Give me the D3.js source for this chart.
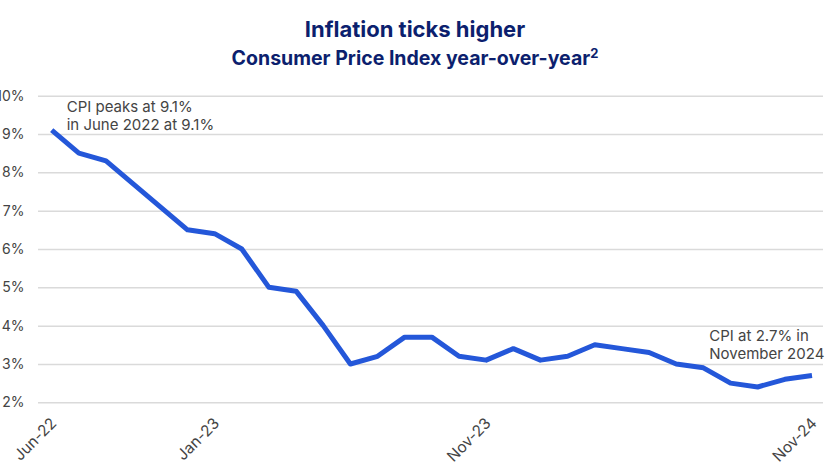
<!DOCTYPE html>
<html>
<head>
<meta charset="utf-8">
<script src="https://cdn.jsdelivr.net/npm/d3@7"></script>
<style>
  html, body { margin: 0; padding: 0; background: #fff; }
  svg { display: block; }
  text { font-family: Inter, "Noto Sans", sans-serif; }
</style>
</head>
<body>
<div id="chart"></div>
<script>
// Data
const months = ["Jun-22","Jul-22","Aug-22","Oct-22","Nov-22","Dec-22","Jan-23","Feb-23","Mar-23","Apr-23","May-23","Jun-23","Jul-23","Aug-23","Sep-23","Oct-23","Nov-23","Dec-23","Jan-24","Feb-24","Mar-24","Apr-24","May-24","Jun-24","Jul-24","Aug-24","Sep-24","Oct-24","Nov-24"];
const cpi = [9.1, 8.5, 8.3, 7.7, 7.1, 6.5, 6.4, 6.0, 5.0, 4.9, 4.0, 3.0, 3.2, 3.7, 3.7, 3.2, 3.1, 3.4, 3.1, 3.2, 3.5, 3.4, 3.3, 3.0, 2.9, 2.5, 2.4, 2.6, 2.7];
const xTickLabels = ["Jun-22","Jan-23","Nov-23","Nov-24"];
const yTicks = [2, 3, 4, 5, 6, 7, 8, 9, 10];
const titleText = "Inflation ticks higher";
const subtitleText = "Consumer Price Index year-over-year";
const annotations = [
  { idx: 0, lines: ["CPI peaks at 9.1%", "in June 2022 at 9.1%"] },
  { idx: 28, lines: ["CPI at 2.7% in", "November 2024"] }
];

const W = 840, H = 472;
const navy = "#0c1f6e";
const lineColor = "#2457d9";
const textGrey = "#444";
const gridColor = "#dadada";

const svg = d3.select("#chart").append("svg").attr("width", W).attr("height", H);

const x = d3.scalePoint().domain(months).range([51.7, 812]);
const y = d3.scaleLinear().domain([2, 10]).range([402.3, 95.7]);

// Titles
svg.append("text").attr("x", 415).attr("y", 37.3).attr("text-anchor", "middle")
  .attr("fill", navy).attr("font-size", 22).attr("font-weight", 700).text(titleText);
const sub = svg.append("text").attr("x", 415).attr("y", 65).attr("text-anchor", "middle")
  .attr("fill", navy).attr("font-size", 19.5).attr("font-weight", 700);
sub.append("tspan").text(subtitleText);
sub.append("tspan").attr("font-size", 13).attr("dy", -7).text("2");

// Gridlines + y labels
const yAxis = d3.axisLeft(y).tickValues(yTicks).tickFormat(d => d + "%").tickSize(-(823 - 38)).tickPadding(13.5);
const gy = svg.append("g").attr("transform", "translate(38,0)").call(yAxis);
gy.select(".domain").remove();
gy.selectAll(".tick line").attr("stroke", gridColor).attr("stroke-width", 1.5);
gy.selectAll(".tick text").attr("fill", textGrey).attr("font-size", 14)
  .attr("font-family", "Roboto, 'Noto Sans', sans-serif");

// X axis labels
const xAxis = d3.axisBottom(x).tickValues(xTickLabels).tickSize(0).tickPadding(0);
const gx = svg.append("g").attr("transform", "translate(0,416)").call(xAxis);
gx.select(".domain").remove();
gx.selectAll(".tick text")
  .attr("fill", textGrey).attr("font-size", 15.5)
  .attr("font-family", "Roboto, 'Noto Sans', sans-serif")
  .attr("text-anchor", "end")
  .attr("transform", "translate(-3,0) rotate(-45)")
  .attr("dy", "0.75em").attr("dx", "0");

// Line
const line = d3.line().x((d, i) => x(months[i])).y(d => y(d));
svg.append("path").datum(cpi).attr("d", line)
  .attr("fill", "none").attr("stroke", lineColor).attr("stroke-width", 5)
  .attr("stroke-linejoin", "round").attr("stroke-linecap", "butt");

// Annotations
const annPos = [
  { dx: 15, y0: 111.7 },
  { dx: -102.7, y0: 340.7 }
];
annotations.forEach((a, k) => {
  const t = svg.append("text").attr("fill", textGrey).attr("font-size", 15);
  a.lines.forEach((l, j) => {
    t.append("tspan").attr("x", x(months[a.idx]) + annPos[k].dx).attr("y", annPos[k].y0 + j * 18.5).text(l);
  });
});
</script>
</body>
</html>
